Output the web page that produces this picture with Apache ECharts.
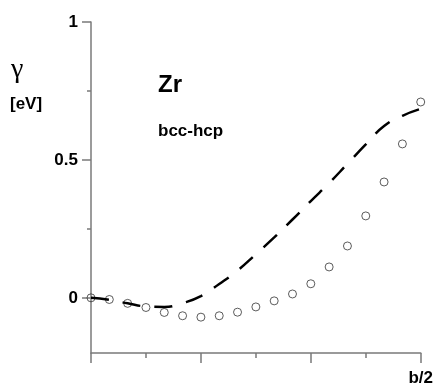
<!DOCTYPE html>
<html>
<head>
<meta charset="utf-8">
<script src="https://cdn.jsdelivr.net/npm/echarts@6/dist/echarts.min.js"></script>
<style>
  html, body {margin: 0; padding: 0; background: #fff;}
  #chart {width: 436px; height: 387px;}
</style>
</head>
<body>
<div id="chart"></div>
<script>
// b/2 split into 18 steps, index along x
const steps = [0, 1, 2, 3, 4, 5, 6, 7, 8, 9, 10, 11, 12, 13, 14, 15, 16, 17, 18];
// circles
const circleVals = [0, -0.006, -0.02, -0.035, -0.053, -0.065, -0.07, -0.065, -0.052, -0.033,
  -0.011, 0.014, 0.051, 0.112, 0.188, 0.297, 0.42, 0.558, 0.71];
// dashed curve
const dashVals = [0, -0.007, -0.02, -0.031, -0.033, -0.019, 0.006, 0.05, 0.099, 0.158,
  0.219, 0.284, 0.351, 0.416, 0.486, 0.556, 0.623, 0.66, 0.685];
const yMajor = [0, 0.5, 1];
const yMinor = [0.25, 0.75];

const axisGrey = '#7a7a7a';
const font = 'Liberation Sans, Arial, sans-serif';

const chart = echarts.init(document.getElementById('chart'));
chart.setOption({
  animation: false,
  grid: {left: 91, right: 13, top: 22, bottom: 33},
  xAxis: {
    type: 'value',
    min: 0,
    max: 18,
    interval: 6,
    splitLine: {show: false},
    axisLine: {onZero: false, lineStyle: {color: axisGrey, width: 1.5}},
    axisTick: {length: 10, lineStyle: {color: axisGrey, width: 1.5}},
    minorTick: {show: true, splitNumber: 2, length: 5, lineStyle: {color: axisGrey, width: 1.5}},
    axisLabel: {
      margin: 17,
      color: '#000',
      fontFamily: font,
      fontWeight: 'bold',
      fontSize: 17,
      showMinLabel: true,
      showMaxLabel: true,
      formatter: v => (v === 18 ? 'b/2' : '')
    }
  },
  yAxis: [{
    type: 'value',
    position: 'left',
    min: -0.2,
    max: 1,
    splitLine: {show: false},
    axisLine: {show: true, lineStyle: {color: axisGrey, width: 1.5}},
    axisTick: {show: true, customValues: yMajor, length: 9, lineStyle: {color: axisGrey, width: 1.5}},
    axisLabel: {
      customValues: yMajor,
      margin: 13,
      color: '#000',
      fontFamily: font,
      fontWeight: 'bold',
      fontSize: 17,
      formatter: v => String(v)
    }
  }, {
    type: 'value',
    position: 'left',
    offset: 0,
    min: -0.2,
    max: 1,
    splitLine: {show: false},
    axisLine: {show: false},
    axisTick: {show: true, customValues: yMinor, length: 4, lineStyle: {color: axisGrey, width: 1.5}},
    axisLabel: {show: false}
  }],
  series: [
    {
      type: 'line',
      data: steps.map((s, i) => [s, dashVals[i]]),
      smooth: true,
      showSymbol: false,
      lineStyle: {color: '#000', width: 2.5, type: [18, 14]},
      z: 3
    },
    {
      type: 'scatter',
      data: steps.map((s, i) => [s, circleVals[i]]),
      symbol: 'circle',
      symbolSize: 8,
      itemStyle: {color: 'rgba(255,255,255,0)', borderColor: '#333', borderWidth: 1},
      z: 2
    }
  ],
  graphic: [
    {type: 'text', left: 11, top: 56, style: {text: 'γ', font: '28px "Liberation Serif", serif', fill: '#000'}},
    {type: 'text', left: 10, top: 96, style: {text: '[eV]', font: 'bold 17px ' + font, fill: '#000'}},
    {type: 'text', left: 158, top: 73, style: {text: 'Zr', font: 'bold 24px ' + font, fill: '#000'}},
    {type: 'text', left: 158, top: 123, style: {text: 'bcc-hcp', font: 'bold 17px ' + font, fill: '#000'}}
  ]
});
</script>
</body>
</html>
